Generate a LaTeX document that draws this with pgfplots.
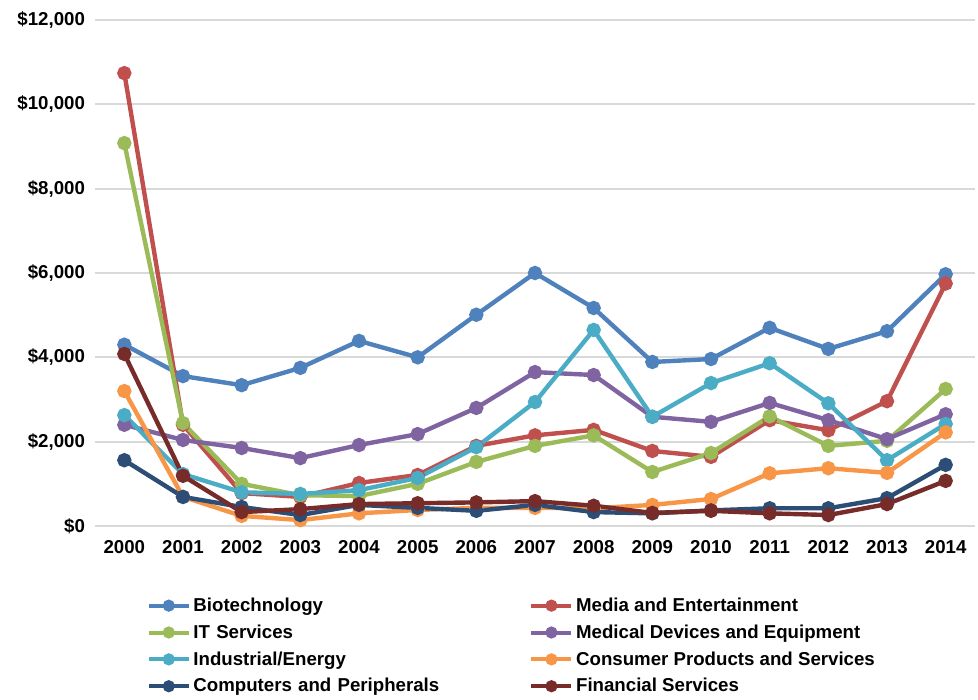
\documentclass[border=0pt]{standalone}
\usepackage{pgfplots}
\pgfplotsset{compat=1.18}
\usepackage{fontspec}
\setmainfont{Liberation Sans}
\definecolor{cBio}{HTML}{4F81BD}
\definecolor{cMed}{HTML}{C0504D}
\definecolor{cIT}{HTML}{9BBB59}
\definecolor{cMD}{HTML}{8064A2}
\definecolor{cInd}{HTML}{4BACC6}
\definecolor{cCon}{HTML}{F79646}
\definecolor{cCom}{HTML}{2C4D75}
\definecolor{cFin}{HTML}{772C2A}
\begin{document}
\begin{tikzpicture}
\begin{axis}[
  scale only axis,
  width=660pt, height=379.5pt,
  xmin=1999.5, xmax=2014.5,
  ymin=0, ymax=12000,
  xtick={2000,2001,...,2014},
  ytick={0,2000,...,12000},
  axis line style={draw=none},
  major tick length=0pt,
  ymajorgrids,
  grid style={draw=black!15, line width=1.5pt},
  scaled y ticks=false,
  tick label style={font=\fontsize{14}{16}\selectfont\bfseries},
  /pgf/number format/assume math mode=true,
  xticklabel style={/pgf/number format/1000 sep={}, yshift=-7.5pt},
  yticklabel style={xshift=-4pt},
  yticklabel={\$\pgfmathprintnumber[fixed,precision=0,1000 sep={,}]{\tick}},
  every axis plot/.append style={line width=3.3pt, mark=*, mark size=3.7pt, mark options={solid}},
  legend columns=2,
  legend cell align=left,
  legend style={draw=none, fill=none, at={(0.054,-0.131)}, anchor=north west,
    font=\fontsize{14}{16}\selectfont\bfseries,
    row sep=4.5pt, column sep=0pt,
    /tikz/column 2/.style={text width=250pt}},
  legend image code/.code={\draw[#1, line width=3pt, mark size=3pt, mark repeat=2, mark phase=2] plot coordinates {(0pt,0pt)(15pt,0pt)(30pt,0pt)};},
]
\addplot[color=cBio] coordinates {(2000,4300)(2001,3555)(2002,3340)(2003,3750)(2004,4390)(2005,4000)(2006,5010)(2007,6000)(2008,5170)(2009,3890)(2010,3960)(2011,4700)(2012,4200)(2013,4620)(2014,5970)};
\addlegendentry{Biotechnology}
\addplot[color=cMed] coordinates {(2000,10740)(2001,2400)(2002,780)(2003,690)(2004,1020)(2005,1210)(2006,1900)(2007,2150)(2008,2280)(2009,1780)(2010,1640)(2011,2510)(2012,2270)(2013,2960)(2014,5750)};
\addlegendentry{Media and Entertainment}
\addplot[color=cIT] coordinates {(2000,9080)(2001,2440)(2002,1000)(2003,730)(2004,710)(2005,1000)(2006,1520)(2007,1900)(2008,2150)(2009,1280)(2010,1730)(2011,2600)(2012,1900)(2013,2020)(2014,3250)};
\addlegendentry{IT Services}
\addplot[color=cMD] coordinates {(2000,2400)(2001,2040)(2002,1850)(2003,1610)(2004,1920)(2005,2180)(2006,2800)(2007,3650)(2008,3580)(2009,2590)(2010,2470)(2011,2920)(2012,2510)(2013,2060)(2014,2650)};
\addlegendentry{Medical Devices and Equipment}
\addplot[color=cInd] coordinates {(2000,2630)(2001,1230)(2002,800)(2003,760)(2004,850)(2005,1140)(2006,1870)(2007,2940)(2008,4650)(2009,2590)(2010,3390)(2011,3860)(2012,2910)(2013,1560)(2014,2420)};
\addlegendentry{Industrial/Energy}
\addplot[color=cCon] coordinates {(2000,3200)(2001,690)(2002,240)(2003,140)(2004,300)(2005,380)(2006,430)(2007,430)(2008,420)(2009,500)(2010,640)(2011,1250)(2012,1370)(2013,1260)(2014,2220)};
\addlegendentry{Consumer Products and Services}
\addplot[color=cCom] coordinates {(2000,1560)(2001,690)(2002,450)(2003,260)(2004,500)(2005,430)(2006,360)(2007,500)(2008,330)(2009,300)(2010,370)(2011,420)(2012,420)(2013,660)(2014,1450)};
\addlegendentry{Computers and Peripherals}
\addplot[color=cFin] coordinates {(2000,4080)(2001,1190)(2002,330)(2003,400)(2004,520)(2005,540)(2006,560)(2007,590)(2008,480)(2009,310)(2010,360)(2011,300)(2012,260)(2013,520)(2014,1070)};
\addlegendentry{Financial Services}
\end{axis}
\useasboundingbox ([xshift=-71.25pt,yshift=-129pt]current axis.south west) rectangle ([xshift=2.25pt,yshift=15pt]current axis.north east);
\end{tikzpicture}
\end{document}
